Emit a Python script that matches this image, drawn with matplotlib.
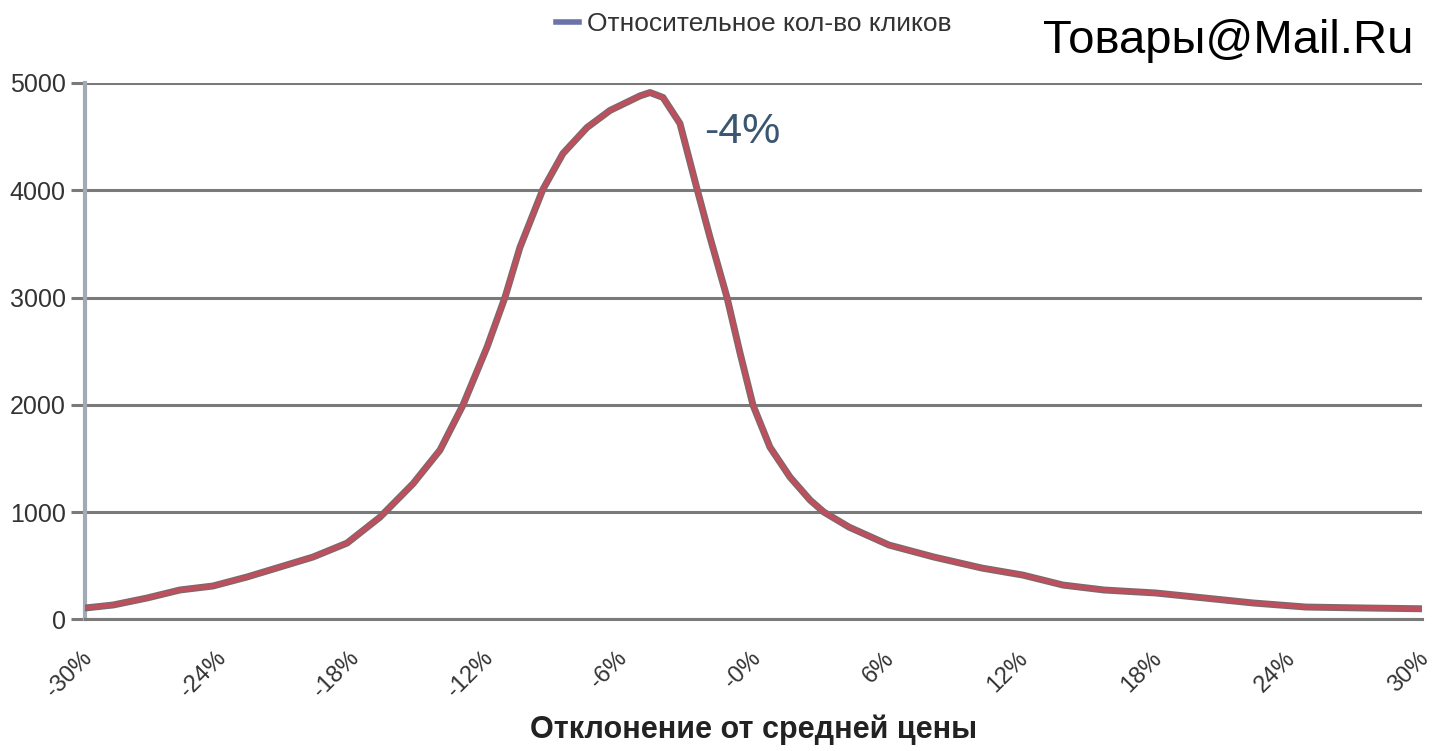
import matplotlib
matplotlib.use("Agg")
import matplotlib.pyplot as plt
from matplotlib.lines import Line2D
from matplotlib.transforms import ScaledTranslation

plt.rcParams['font.family'] = ['Liberation Sans', 'DejaVu Sans']

# Data
deviation_pct = [-30.0, -28.74, -27.22, -25.74, -24.26, -22.73, -21.25, -19.77, -18.24,
                 -16.76, -15.28, -14.07, -13.04, -11.96, -11.15, -10.48, -9.45,
                 -8.55, -7.47, -6.44, -5.09, -4.64, -4.06, -3.30, -2.54, -1.95, -1.19,
                 -0.60, -0.02, 0.74, 1.64, 2.54, 3.16, 4.29, 6.08, 8.10, 10.26, 12.09,
                 13.89, 15.73, 18.06, 20.26, 22.42, 24.80, 27.53, 30.0]
relative_clicks = [107, 135, 200, 275, 312, 396, 489, 582, 712,
                   954, 1265, 1578, 1997, 2537, 3003, 3468, 4008,
                   4343, 4585, 4744, 4880, 4911, 4865, 4623, 4018, 3561, 3003,
                   2481, 1997, 1606, 1327, 1113, 1001, 861, 694, 582, 479, 414,
                   321, 275, 247, 200, 154, 116, 107, 100]
x_ticks = [-30, -24, -18, -12, -6, 0, 6, 12, 18, 24, 30]
x_tick_labels = ['-30%', '-24%', '-18%', '-12%', '-6%', '-0%', '6%', '12%', '18%', '24%', '30%']
y_ticks = [0, 1000, 2000, 3000, 4000, 5000]

series_name = 'Относительное кол-во кликов'
brand = 'Товары@Mail.Ru'
peak_label = '-4%'
x_label = 'Отклонение от средней цены'

fig = plt.figure(figsize=(14.33, 7.51), dpi=100)
ax = fig.add_axes([0.0593, 0.1751, 0.9330, 0.7144])

ax.plot(deviation_pct, relative_clicks, color='#7a6a6e', lw=5.0, solid_capstyle='round',
        solid_joinstyle='round', zorder=3)
ax.plot(deviation_pct, relative_clicks, color='#bf4f5c', lw=3.2, solid_capstyle='round',
        solid_joinstyle='round', zorder=4)

ax.set_xlim(-30, 30)
ax.set_ylim(0, 5000)
ax.set_yticks(y_ticks)
ax.set_yticklabels([str(v) for v in y_ticks])
ax.set_xticks(x_ticks)
ax.set_xticklabels([])

# rotated x tick labels drawn as texts, anchored under each tick
offset = ScaledTranslation(-4 / 100, -28 / 100, fig.dpi_scale_trans)
for xv, lab in zip(x_ticks, x_tick_labels):
    ax.text(xv, 0, lab, transform=ax.get_xaxis_transform() + offset,
            rotation=45, ha='right', va='top', rotation_mode='anchor',
            fontsize=17, color='#333333', clip_on=False)

ax.grid(axis='y', color='#7a7a7a', lw=2.2, zorder=1)
ax.grid(axis='x', visible=False)
ax.set_axisbelow(True)
for s in ['top', 'right']:
    ax.spines[s].set_visible(False)
ax.spines['left'].set_color('#a3aab5')
ax.spines['left'].set_linewidth(3)
ax.spines['bottom'].set_color('#7a7a7a')
ax.spines['bottom'].set_linewidth(2.2)

ax.tick_params(axis='y', length=10, width=2.2, color='#7a7a7a', pad=4,
               labelsize=18, labelcolor='#333333')
ax.tick_params(axis='x', length=0, pad=0)

ax.set_xlabel(x_label, fontsize=22, fontweight='bold', color='#222222', labelpad=0)
ax.xaxis.set_label_coords(0.5, -0.178)

ax.text(-2.2, 4540, peak_label, fontsize=31, color='#3b5672', va='center', ha='left')

fig.text(0.9865, 0.945, brand, fontsize=34, color='#000000', ha='right', va='center')

handle = Line2D([], [], color='#6a74a6', lw=4)
fig.legend([handle], [series_name], loc='center', bbox_to_anchor=(0.526, 0.968),
           frameon=False, fontsize=19, handlelength=0.9, handletextpad=0.3,
           labelcolor='#333333')

fig.savefig('out.png', dpi=100, facecolor='white')
